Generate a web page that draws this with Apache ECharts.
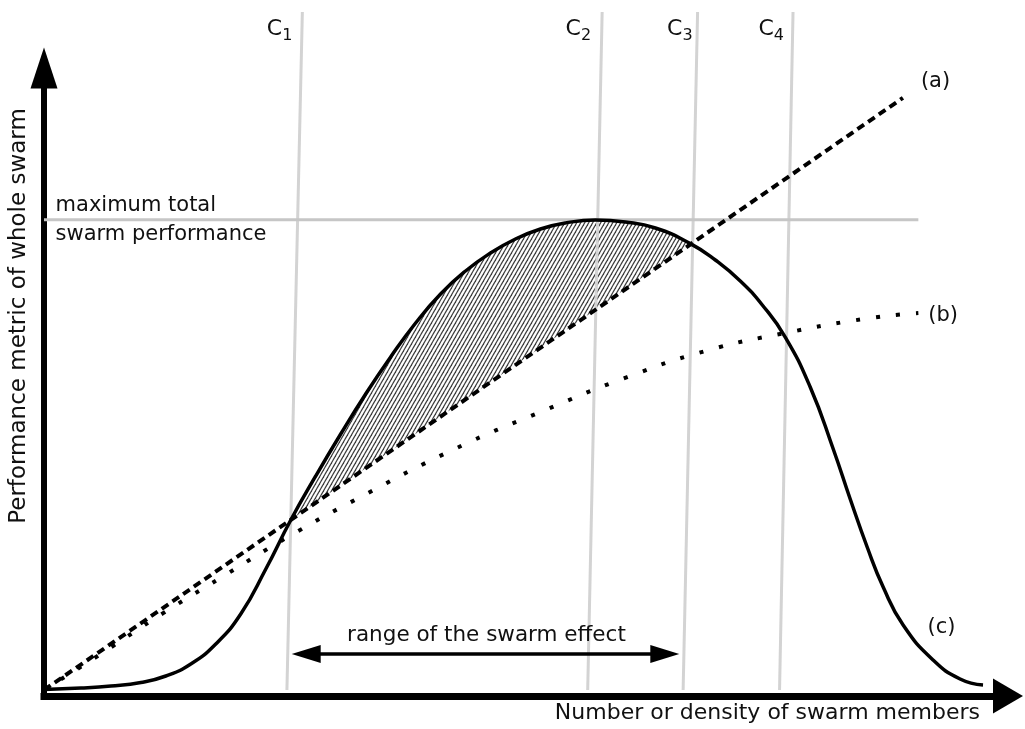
<!DOCTYPE html>
<html>
<head>
<meta charset="utf-8">
<script src="https://cdn.jsdelivr.net/npm/echarts@6/dist/echarts.min.js"></script>
<style>html,body{margin:0;padding:0;background:#fff}#c{width:1025px;height:729px}</style>
</head>
<body>
<div id="c"></div>
<script>
// ---- data (x: number/density, y: performance; both 0..100 scale) ----
const curveC = [[0,0.1],[3.83,0.32],[6.94,0.64],[10.05,1.21],[12.64,2.25],[15.23,4.18],[17.82,7.40],[20.41,12.22],[23.01,19.45],[25.60,27.33],[28.19,34.41],[30.78,41.16],[33.37,47.59],[35.96,53.54],[38.55,59.00],[41.14,63.67],[43.73,67.36],[46.32,70.26],[48.91,72.51],[51.50,74.12],[54.09,75.08],[57.20,75.56],[60.31,75.24],[63.42,74.28],[67.05,71.77],[69.64,69.13],[72.23,65.76],[74.51,61.90],[76.89,56.75],[79.48,48.71],[81.87,38.75],[83.63,30.71],[85.39,22.99],[87.05,16.56],[89.12,10.45],[92.23,4.82],[95.03,1.77],[97.41,0.80]];
const lineA = [[0,0],[89.1,95.2]];
const lineB = [[0,0],[5.9,5.8],[12.4,12.4],[18.3,18.0],[25.3,24.6],[32.8,31.0],[42.4,38.6],[51.5,44.7],[60.5,50.3],[68.6,54.5],[76.9,57.4],[85.7,59.8],[90.7,60.6]];
const critNames = ['1','2','3','4'];
const critBottom = [[25.2,0],[56.4,0],[66.3,0],[76.3,0]];
const critTop = [[26.8,109],[57.9,109],[67.8,109],[77.7,109]];
const maxPerf = 75.6;
const maxLineX = [0, 90.7];
const swarmEffect = [25.6, 67.05];      // crossings of (c) with (a)
const rangeArrowX = [27.2, 64.4];
const rangeArrowY = 5.8;
const notes = [
  {text: 'maximum total\nswarm performance', value: [1.2, 75.6]},
  {text: 'range of the swarm effect', value: [45.9, 5.8]},
  {text: '(c)', value: [93.1, 10.1]}
];
const curveLabels = ['(a)', '(b)'];

// ---- styles ----
const FONT = 'DejaVu Sans';
const critLabelOffset = [-10, -11, -5, -9];

const tile = document.createElement('canvas');
tile.width = 4; tile.height = 7;
const g = tile.getContext('2d');
g.strokeStyle = '#3a3a3a'; g.lineWidth = 1.2;
for (let k = -1; k <= 1; k++) { g.beginPath(); g.moveTo(k*4-4, 14); g.lineTo(k*4+8, -7); g.stroke(); }

const hatchData = curveC.filter(p => p[0] >= swarmEffect[0] && p[0] <= swarmEffect[1]);

const noteStyles = [
  {align:'left', verticalAlign:'middle', offset:[0,0], fontSize:21},
  {align:'center', verticalAlign:'bottom', offset:[0,-4], fontSize:21.5},
  {align:'center', verticalAlign:'middle', offset:[0,0], fontSize:21}
];

const series = [];
series.push({type:'line', z:1, data: hatchData, smooth: 0.5, symbol:'none', lineStyle:{width:0, opacity:0},
  areaStyle:{color:{image: tile, repeat:'repeat'}, opacity:1}, silent:true});
// white mask below line (a): keeps only the band between (c) and (a) hatched
series.push({type:'line', z:1, data: lineA, symbol:'none', lineStyle:{width:0, opacity:0},
  areaStyle:{color:'#ffffff', opacity:1}, silent:true});
critNames.forEach((n, i) => {
  series.push({type:'line', data:[critBottom[i], critTop[i]], symbol:'none', clip:false,
    lineStyle:{color:'#d3d3d3', width:3},
    endLabel:{show:true, formatter:'{m|C}{s|' + n + '}', align:'right', verticalAlign:'middle', distance:0,
      offset:[critLabelOffset[i], 17],
      rich:{m:{fontSize:22, fontFamily:FONT, color:'#111', lineHeight:30, verticalAlign:'middle'},
            s:{fontSize:16, fontFamily:FONT, color:'#111', lineHeight:30, verticalAlign:'bottom'}}}
  });
});
series.push({type:'line', data:[[maxLineX[0], maxPerf],[maxLineX[1], maxPerf]], symbol:'none',
  lineStyle:{color:'#c6c6c6', width:3}});
series.push({type:'line', data: lineB, smooth: true, symbol:'none',
  lineStyle:{color:'#000', width:4, type:[4,16]},
  endLabel:{show:true, formatter: curveLabels[1], align:'left', verticalAlign:'middle', distance:0, offset:[10,2],
    fontSize:21, fontFamily:FONT, color:'#111'}});
series.push({type:'line', data: lineA, symbol:'none',
  lineStyle:{color:'#000', width:4, type:[8,5]},
  endLabel:{show:true, formatter: curveLabels[0], align:'left', verticalAlign:'middle', distance:0, offset:[18,-16],
    fontSize:21, fontFamily:FONT, color:'#111'}});
series.push({type:'line', data: curveC, smooth: 0.5, symbol:'none',
  lineStyle:{color:'#000', width:3.5}});
series.push({type:'scatter', z:5, symbolSize:0, silent:true, itemStyle:{opacity:1},
  data: notes.map((n, i) => ({value:n.value, label:{show:true, formatter:n.text,
    position:'inside', align:noteStyles[i].align, verticalAlign:noteStyles[i].verticalAlign,
    offset:noteStyles[i].offset, lineHeight:29, fontSize:noteStyles[i].fontSize,
    fontFamily:FONT, color:'#111', opacity:1}})),
  markLine:{silent:true, symbol:['triangle','triangle'], symbolSize:[18,29], animation:false,
    label:{show:false}, lineStyle:{color:'#000', width:3.5, type:'solid', opacity:1},
    data:[[{coord:[rangeArrowX[0], rangeArrowY]},{coord:[rangeArrowX[1], rangeArrowY]}]]}
});

const chart = echarts.init(document.getElementById('c'), null, {renderer:'canvas'});
chart.setOption({
  animation:false,
  backgroundColor:'#fff',
  grid:{left:43, right:17, top:68, bottom:39},
  xAxis:{type:'value', min:0, max:100, offset:6,
    axisLine:{show:true, onZero:false, symbol:['none','triangle'], symbolSize:[35,30],
      lineStyle:{color:'#000', width:7, cap:'square'}},
    axisTick:{show:false}, axisLabel:{show:false}, splitLine:{show:false},
    name:'Number or density of swarm members', nameLocation:'end', nameGap:-28,
    nameTextStyle:{fontSize:22, fontFamily:FONT, color:'#111', align:'right', verticalAlign:'top', padding:[6,0,0,0]}},
  yAxis:{type:'value', min:0, max:100,
    axisLine:{show:true, onZero:false, symbol:['none','triangle'], symbolSize:[27,41],
      lineStyle:{color:'#000', width:6, cap:'square'}},
    axisTick:{show:false}, axisLabel:{show:false}, splitLine:{show:false},
    name:'Performance metric of whole swarm', nameLocation:'middle', nameRotate:90, nameGap:13,
    nameTextStyle:{fontSize:23, fontFamily:FONT, color:'#111', padding:[0,0,0,126]}},
  series: series
});
</script>
</body>
</html>
